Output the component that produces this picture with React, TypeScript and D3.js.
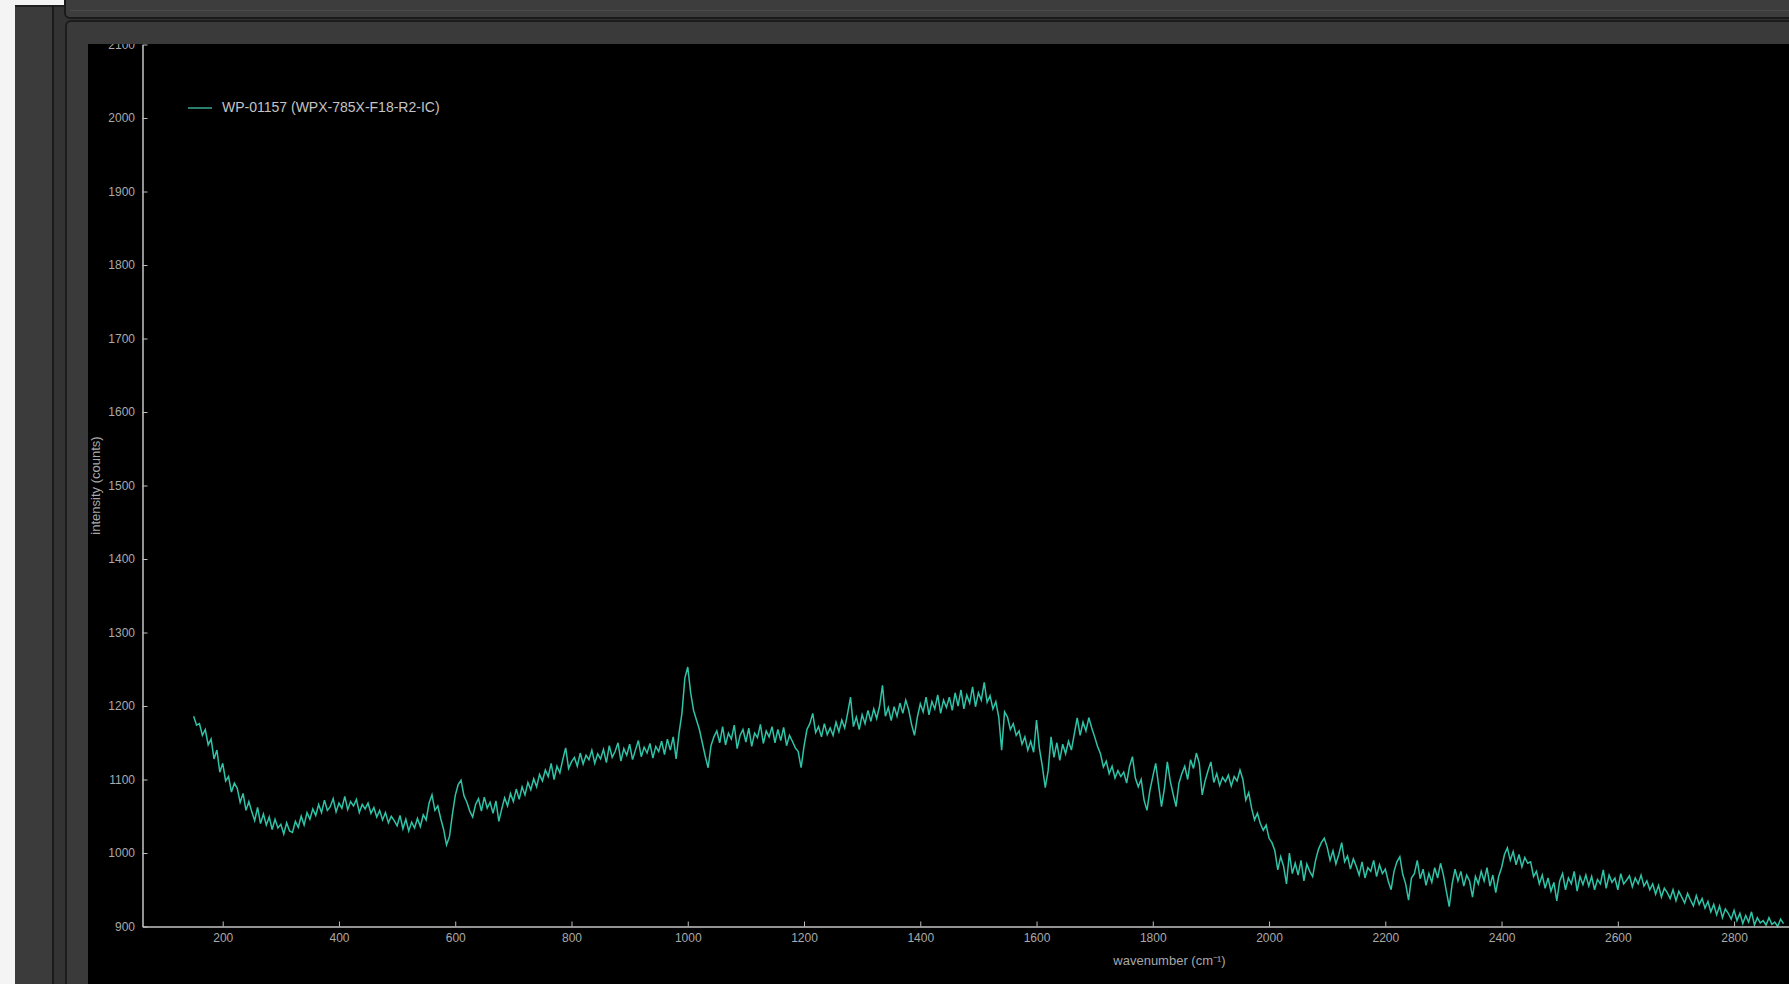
import React, { useRef, useEffect } from "react";
import * as d3 from "d3";

const WIDTH = 1789;
const HEIGHT = 984;

const SERIES_NAME = "WP-01157 (WPX-785X-F18-R2-IC)";
const X_LABEL = "wavenumber (cm⁻¹)";
const Y_LABEL = "intensity (counts)";

const X_TICKS = [200, 400, 600, 800, 1000, 1200, 1400, 1600, 1800, 2000, 2200, 2400, 2600, 2800];
const Y_TICKS = [900, 1000, 1100, 1200, 1300, 1400, 1500, 1600, 1700, 1800, 1900, 2000, 2100];

// sampled every 5 cm-1 starting at 150
const WN_START = 150;
const WN_STEP = 5;

const INTENSITY = [
  1186, 1174, 1176, 1160, 1168, 1147, 1155, 1128, 1140, 1110, 1122, 1098, 1104, 1083, 1095, 1088, 1069, 1081, 1058, 1070,
  1056, 1044, 1062, 1040, 1053, 1038, 1049, 1032, 1046, 1034, 1039, 1026, 1041, 1030, 1028, 1043, 1035, 1050, 1038, 1055,
  1046, 1060, 1051, 1066, 1055, 1072, 1058, 1063, 1074, 1056, 1068, 1061, 1077, 1059, 1070, 1064, 1073, 1055, 1066, 1060,
  1068, 1054, 1062, 1049, 1058, 1045, 1055, 1041, 1050, 1044, 1037, 1051, 1033, 1046, 1030, 1042, 1034, 1047, 1036, 1052,
  1045, 1068, 1079, 1058, 1064, 1047, 1032, 1011, 1022, 1052, 1078, 1093, 1099, 1078, 1069, 1057, 1049, 1066, 1074, 1057,
  1076, 1061, 1069, 1054, 1071, 1043, 1060, 1075, 1064, 1081, 1070, 1087, 1073, 1090, 1079, 1096, 1086, 1101, 1090, 1107,
  1098, 1113, 1104, 1122, 1100, 1118, 1109, 1127, 1143, 1115, 1124, 1130, 1118, 1136, 1121, 1133, 1127, 1140, 1122, 1135,
  1128, 1141, 1123, 1146, 1130, 1138, 1150, 1125, 1142, 1133, 1148, 1127, 1140, 1153, 1131, 1144, 1136, 1149, 1129, 1145,
  1138, 1152, 1134, 1155, 1140, 1158, 1128, 1163, 1190, 1238, 1253, 1218, 1194, 1181, 1168, 1150, 1132, 1116, 1146, 1158,
  1166, 1150, 1172, 1147, 1163, 1155, 1174, 1142, 1160, 1168, 1151, 1170, 1145, 1163, 1157, 1175, 1149, 1166, 1158, 1172,
  1150, 1168, 1153, 1171, 1146, 1160, 1152, 1143, 1138, 1116, 1145, 1168, 1176, 1190, 1164, 1172, 1158, 1176, 1161, 1170,
  1160, 1178, 1165, 1181, 1170, 1190, 1212, 1172, 1185, 1168, 1188, 1176, 1194, 1179, 1196, 1183, 1200, 1228, 1186, 1198,
  1180, 1199, 1186, 1204, 1190, 1208, 1195, 1175, 1160, 1185, 1203, 1192, 1212, 1188, 1206, 1196, 1215, 1190, 1208, 1198,
  1212, 1194, 1218, 1200, 1222, 1196, 1215, 1204, 1226, 1199, 1218, 1208, 1232, 1205, 1214, 1196, 1206, 1185, 1140, 1192,
  1185, 1168, 1176, 1160, 1166, 1148, 1158, 1140, 1152, 1137, 1181, 1142, 1118, 1089, 1112, 1158, 1130, 1150, 1126, 1148,
  1135, 1152, 1140, 1162, 1184, 1160, 1178, 1166, 1184, 1170, 1158, 1145, 1135, 1117, 1125, 1108, 1118, 1102, 1112, 1104,
  1110, 1095, 1118, 1131, 1102, 1090, 1100, 1072, 1058, 1085, 1104, 1122, 1092, 1063, 1088, 1124, 1098, 1080, 1063, 1095,
  1108, 1118, 1100, 1127, 1115, 1136, 1122, 1079, 1098, 1112, 1124, 1096, 1108, 1092, 1103, 1097, 1106, 1091, 1104, 1098,
  1113, 1100, 1072, 1082, 1061, 1045, 1054, 1040, 1031, 1038, 1020, 1014, 1003, 977, 995, 982, 958, 1000, 972, 986,
  970, 990, 962, 985, 975, 968, 990, 1005, 1014, 1020, 1008, 990, 1003, 985, 998, 1014, 988, 996, 978, 992,
  982, 970, 988, 966, 980, 975, 990, 968, 984, 972, 978, 962, 950, 975, 988, 995, 971, 958, 936, 966,
  972, 990, 965, 978, 956, 972, 960, 980, 966, 986, 970, 948, 927, 958, 978, 962, 975, 955, 970, 962,
  940, 968, 958, 975, 962, 980, 955, 970, 946, 968, 980, 998, 1007, 990, 1002, 984, 998, 981, 994, 986,
  988, 968, 975, 958, 970, 952, 966, 948, 960, 935, 962, 972, 950, 966, 958, 975, 948, 968, 957, 970,
  955, 968, 950, 964, 958, 977, 952, 970, 960, 966, 950, 972, 958, 963, 969, 954, 966, 958, 970, 955,
  962, 950, 958, 944, 956, 940, 952, 946, 938, 950, 935, 948, 940, 932, 945, 936, 928, 942, 930, 938,
  925, 934, 920, 930, 916, 928, 912, 924, 918, 910, 922, 908, 918, 904, 915, 906, 920, 902, 912, 905,
  908, 902, 912, 903, 906, 900, 910, 904,
];

const FONT = "'Liberation Sans', Arial, sans-serif";

const App: React.FC = () => {
  const svgRef = useRef<SVGSVGElement | null>(null);

  useEffect(() => {
    const svg = d3.select(svgRef.current);
    svg.selectAll("*").remove();

    // window chrome
    svg.append("rect").attr("width", WIDTH).attr("height", HEIGHT).attr("fill", "#f4f4f4");
    svg.append("rect").attr("x", 15).attr("y", 5).attr("width", WIDTH).attr("height", HEIGHT).attr("fill", "#3b3b3b");
    svg.append("rect").attr("x", 15).attr("y", 5).attr("width", WIDTH).attr("height", 2).attr("fill", "#202020");
    svg.append("rect").attr("x", 52).attr("y", 5).attr("width", 2).attr("height", HEIGHT).attr("fill", "#1a1a1a");
    svg.append("rect").attr("x", 54).attr("y", 7).attr("width", WIDTH).attr("height", HEIGHT).attr("fill", "#333333");
    // top tab bar
    svg.append("rect")
      .attr("x", 65).attr("y", -10).attr("width", WIDTH).attr("height", 28).attr("rx", 5)
      .attr("fill", "#3d3d3d").attr("stroke", "#1a1a1a").attr("stroke-width", 2);
    svg.append("rect").attr("x", 70).attr("y", 10).attr("width", WIDTH).attr("height", 1).attr("fill", "#4a4a4a");
    // plot panel
    svg.append("rect")
      .attr("x", 66).attr("y", 21).attr("width", WIDTH).attr("height", HEIGHT).attr("rx", 5)
      .attr("fill", "#3a3a3a").attr("stroke", "#1c1c1c").attr("stroke-width", 2);
    svg.append("rect").attr("x", 88).attr("y", 44).attr("width", WIDTH).attr("height", HEIGHT).attr("fill", "#000");

    svg.append("clipPath").attr("id", "plot-clip")
      .append("rect").attr("x", 88).attr("y", 44).attr("width", WIDTH).attr("height", HEIGHT);

    const g = svg.append("g").attr("clip-path", "url(#plot-clip)");

    const x = d3.scaleLinear().domain([62, 2895]).range([142.5, 1789.3]);
    const y = d3.scaleLinear().domain([900, 2100]).range([926.5, 44.5]);

    const data = INTENSITY.map((v, i) => ({ wn: WN_START + i * WN_STEP, v }));

    const line = d3.line<{ wn: number; v: number }>()
      .x((d) => x(d.wn))
      .y((d) => y(d.v));

    g.append("path")
      .datum(data)
      .attr("fill", "none")
      .attr("stroke", "#2fc3a8")
      .attr("stroke-width", 1.5)
      .attr("stroke-linejoin", "miter")
      .attr("d", line);

    const xAxis = g.append("g")
      .attr("transform", `translate(0,${y(900)})`)
      .call(d3.axisBottom(x).tickValues(X_TICKS).tickSize(-5).tickSizeOuter(0).tickPadding(7).tickFormat(d3.format("d")));

    const yAxis = g.append("g")
      .attr("transform", `translate(${x(62)},0)`)
      .call(d3.axisLeft(y).tickValues(Y_TICKS).tickSize(-5).tickSizeOuter(0).tickPadding(7.5).tickFormat(d3.format("d")));

    [xAxis, yAxis].forEach((ax) => {
      ax.select(".domain").attr("stroke", "#c4c4c4").attr("stroke-width", 1.5);
      ax.selectAll(".tick line").attr("stroke", "#bdbdbd").attr("stroke-width", 1);
      ax.selectAll(".tick text")
        .attr("fill", "#aaaaaa")
        .style("font-family", FONT)
        .style("font-size", "12px");
    });

    g.append("text")
      .attr("x", 1169.5).attr("y", 962)
      .attr("text-anchor", "middle").attr("dominant-baseline", "middle")
      .attr("fill", "#a8a8a8")
      .style("font-family", FONT).style("font-size", "13px")
      .text(X_LABEL);

    g.append("text")
      .attr("transform", `translate(97,${(y(900) + y(2100)) / 2}) rotate(-90)`)
      .attr("text-anchor", "middle").attr("dominant-baseline", "middle")
      .attr("fill", "#a8a8a8")
      .style("font-family", FONT).style("font-size", "13px")
      .text(Y_LABEL);

    // legend
    const legend = g.append("g").attr("transform", "translate(188,108)");
    legend.append("line").attr("x1", 0).attr("x2", 24).attr("y1", 0).attr("y2", 0)
      .attr("stroke", "#3aa892").attr("stroke-width", 1.5);
    legend.append("text")
      .attr("x", 34).attr("y", 0).attr("dominant-baseline", "middle")
      .attr("fill", "#c4c4c4")
      .style("font-family", FONT).style("font-size", "14px")
      .text(SERIES_NAME);

    return () => {
      svg.selectAll("*").remove();
    };
  }, []);

  return (
    <svg
      ref={svgRef}
      width={WIDTH}
      height={HEIGHT}
      style={{ position: "absolute", left: 0, top: 0, display: "block" }}
    ></svg>
  );
};

export default App;
